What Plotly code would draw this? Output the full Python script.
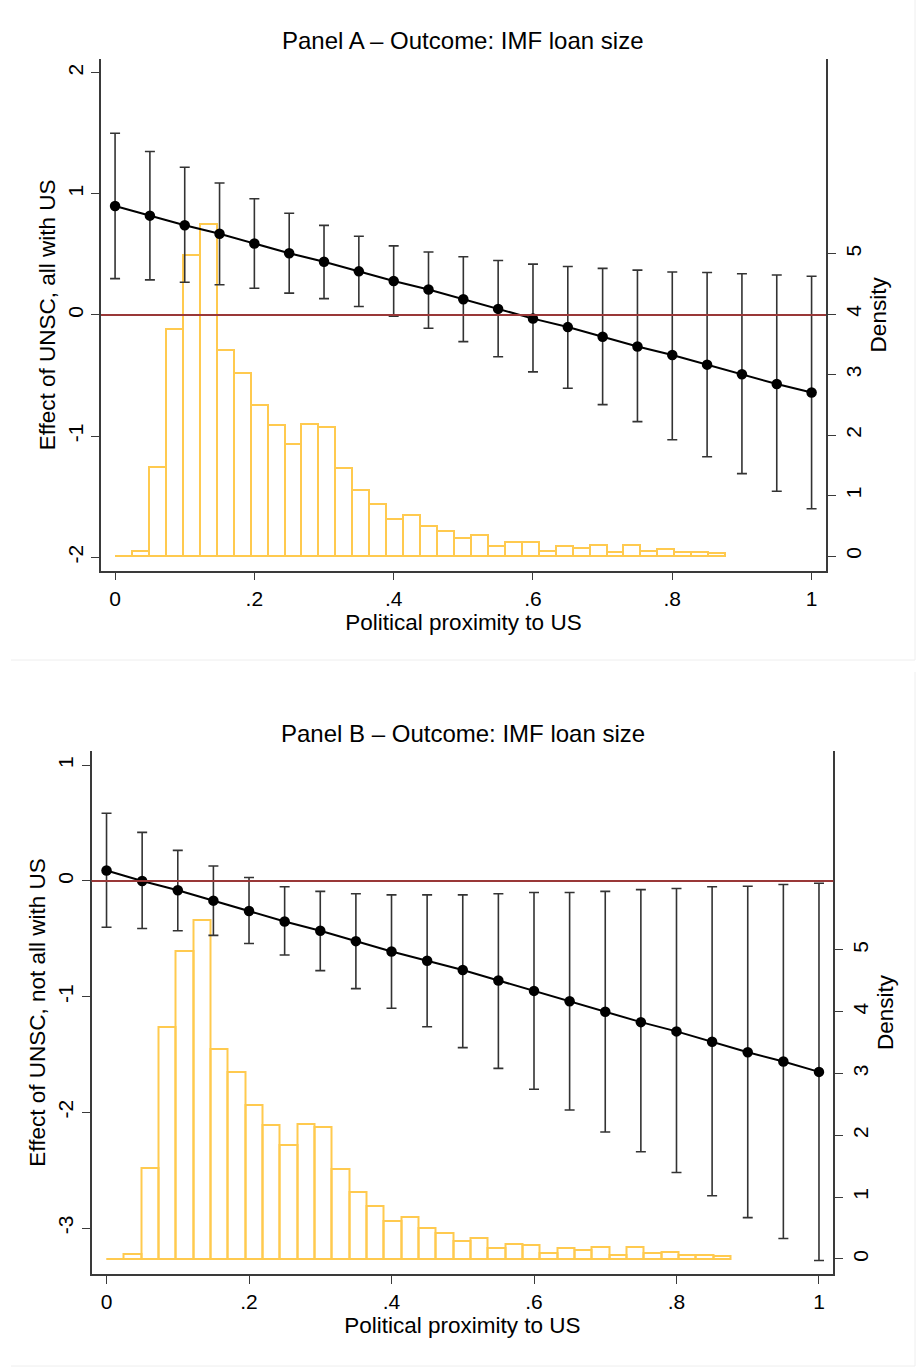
import plotly.graph_objects as go

# ---------------- data ----------------
proximity = [0.00, 0.05, 0.10, 0.15, 0.20, 0.25, 0.30, 0.35, 0.40, 0.45, 0.50,
             0.55, 0.60, 0.65, 0.70, 0.75, 0.80, 0.85, 0.90, 0.95, 1.00]

# Panel A: effect of UNSC, all with US
a_est = [0.90, 0.82, 0.74, 0.67, 0.59, 0.51, 0.44, 0.36, 0.28, 0.21, 0.13,
         0.05, -0.03, -0.10, -0.18, -0.26, -0.33, -0.41, -0.49, -0.57, -0.64]
a_hi = [1.50, 1.35, 1.22, 1.09, 0.96, 0.84, 0.74, 0.65, 0.57, 0.52, 0.48,
        0.45, 0.42, 0.40, 0.385, 0.37, 0.355, 0.35, 0.34, 0.33, 0.32]
a_lo = [0.30, 0.29, 0.27, 0.25, 0.22, 0.18, 0.135, 0.07, -0.01, -0.11, -0.22,
        -0.345, -0.47, -0.605, -0.74, -0.88, -1.03, -1.17, -1.31, -1.455, -1.60]

# Panel B: effect of UNSC, not all with US
b_est = [0.09, 0.00, -0.08, -0.17, -0.26, -0.35, -0.43, -0.52, -0.61, -0.69, -0.77,
         -0.86, -0.95, -1.04, -1.13, -1.22, -1.30, -1.39, -1.48, -1.56, -1.65]
b_hi = [0.585, 0.42, 0.265, 0.13, 0.03, -0.05, -0.09, -0.11, -0.12, -0.12, -0.12,
        -0.11, -0.10, -0.10, -0.09, -0.075, -0.065, -0.05, -0.045, -0.03, -0.02]
b_lo = [-0.40, -0.41, -0.43, -0.47, -0.54, -0.64, -0.775, -0.93, -1.10, -1.26, -1.44,
        -1.62, -1.80, -1.98, -2.17, -2.34, -2.52, -2.72, -2.91, -3.09, -3.28]

# Histogram of political proximity (density), 36 equal bins starting at 0
hist_start = 0.0
hist_width = 0.02433
hist_density = [0.00, 0.08, 1.48, 3.75, 4.98, 5.49, 3.40, 3.03, 2.49, 2.17, 1.85, 2.19,
                2.14, 1.45, 1.09, 0.86, 0.62, 0.68, 0.50, 0.42, 0.29, 0.34, 0.17, 0.24,
                0.23, 0.09, 0.17, 0.14, 0.19, 0.07, 0.19, 0.09, 0.12, 0.07, 0.07, 0.05]

x_tickvals = [0, 0.2, 0.4, 0.6, 0.8, 1]
x_ticktext = ["0", ".2", ".4", ".6", ".8", "1"]
a_yticks = [-2, -1, 0, 1, 2]
b_yticks = [-3, -2, -1, 0, 1]
dens_ticks = [0, 1, 2, 3, 4, 5]

# ---------------- styling ----------------
FONT = "Liberation Sans, Arial, Helvetica, sans-serif"
HIST_COL = "#FFCA4F"
RED = "#993838"
AXIS_COL = "#3a3a3a"
W, H = 921, 1368

hist_centers = [hist_start + hist_width * (i + 0.5) for i in range(len(hist_density))]
hist_edges = [hist_start, hist_start + hist_width * len(hist_density)]


def px_x(p):
    return p / W


def px_y(p):
    return 1 - p / H


fig = go.Figure()


def add_panel(xa, ya_dens, ya_eff, est, lo, hi):
    # histogram on density axis (drawn underneath)
    fig.add_trace(go.Bar(
        x=hist_centers, y=hist_density, width=hist_width,
        marker=dict(color="rgba(0,0,0,0)", line=dict(color=HIST_COL, width=2)),
        xaxis=xa, yaxis=ya_dens, showlegend=False, hoverinfo="skip"))
    fig.add_trace(go.Scatter(
        x=hist_edges, y=[0, 0], mode="lines",
        line=dict(color=HIST_COL, width=2),
        xaxis=xa, yaxis=ya_dens, showlegend=False, hoverinfo="skip"))
    # point estimates with confidence intervals
    fig.add_trace(go.Scatter(
        x=proximity, y=est, mode="lines+markers",
        line=dict(color="black", width=2),
        marker=dict(color="black", size=10.5),
        error_y=dict(type="data", symmetric=False,
                     array=[h - e for h, e in zip(hi, est)],
                     arrayminus=[e - l for e, l in zip(est, lo)],
                     color="#333333", thickness=1.6, width=5),
        xaxis=xa, yaxis=ya_eff, showlegend=False))


add_panel("x", "y", "y2", a_est, a_lo, a_hi)
add_panel("x2", "y3", "y4", b_est, b_lo, b_hi)

tickfont = dict(family=FONT, size=21, color="black")
titlefont = dict(family=FONT, size=22.5, color="black")

common_x = dict(showgrid=False, zeroline=False, showline=True, linecolor=AXIS_COL,
                linewidth=1.5, ticks="outside", ticklen=8, tickcolor=AXIS_COL,
                tickwidth=1.3, tickvals=x_tickvals, ticktext=x_ticktext,
                tickfont=tickfont)
common_y = dict(showgrid=False, zeroline=False, showline=True, linecolor=AXIS_COL,
                linewidth=1.5, ticks="outside", ticklen=8, tickcolor=AXIS_COL,
                tickwidth=1.3, tickangle=-90, tickfont=tickfont)

# Panel A geometry
a_dom_x = [px_x(101), px_x(826)]
a_dom_y = [px_y(570.7), px_y(59)]
# Panel B geometry
b_dom_x = [px_x(91.5), px_x(833.3)]
b_dom_y = [px_y(1274), px_y(751)]

fig.update_layout(
    width=W, height=H, margin=dict(l=0, r=0, t=0, b=0),
    paper_bgcolor="white", plot_bgcolor="rgba(0,0,0,0)",
    bargap=0, showlegend=False,
    font=dict(family=FONT, color="black"),
    xaxis=dict(domain=a_dom_x, anchor="y", range=[-0.0202, 1.0207],
               title=dict(text="Political proximity to US", font=titlefont, standoff=4),
               **common_x),
    yaxis=dict(domain=a_dom_y, anchor="x", side="right", range=[-0.243, 8.22],
               tickvals=dens_ticks, ticktext=[str(t) for t in dens_ticks],
               title=dict(text="Density", font=titlefont, standoff=6), **common_y),
    yaxis2=dict(overlaying="y", anchor="x", side="left", range=[-2.111, 2.113],
                tickvals=a_yticks, ticktext=[str(t) for t in a_yticks],
                title=dict(text="Effect of UNSC, all with US", font=titlefont, standoff=2),
                **common_y),
    xaxis2=dict(domain=b_dom_x, anchor="y3", range=[-0.0211, 1.0201],
                title=dict(text="Political proximity to US", font=titlefont, standoff=4),
                **common_x),
    yaxis3=dict(domain=b_dom_y, anchor="x2", side="right", range=[-0.243, 8.22],
                tickvals=dens_ticks, ticktext=[str(t) for t in dens_ticks],
                title=dict(text="Density", font=titlefont, standoff=6), **common_y),
    yaxis4=dict(overlaying="y3", anchor="x2", side="left", range=[-3.397, 1.1236],
                tickvals=b_yticks, ticktext=[str(t) for t in b_yticks],
                title=dict(text="Effect of UNSC, not all with US", font=titlefont, standoff=2),
                **common_y),
)

# zero reference lines
for yref, xref in (("y2", "x"), ("y4", "x2")):
    fig.add_shape(type="line", xref=xref + " domain", yref=yref, x0=0, x1=1, y0=0, y1=0,
                  line=dict(color=RED, width=2), layer="above")

# faint graph-region borders
for (x0, x1, y0, y1) in ((11, 915, 660, 660), (915, 915, -5, 660),
                         (11, 915, 1366, 1366), (915, 915, 672, 1366)):
    fig.add_shape(type="line", xref="paper", yref="paper",
                  x0=px_x(x0), x1=px_x(x1), y0=px_y(y0), y1=px_y(y1),
                  line=dict(color="#EEEEEE", width=1))

# panel titles
fig.add_annotation(text="Panel A \u2013 Outcome: IMF loan size", xref="paper", yref="paper",
                   x=px_x(463), y=px_y(41), showarrow=False, xanchor="center", yanchor="middle",
                   font=dict(family=FONT, size=24, color="black"))
fig.add_annotation(text="Panel B \u2013 Outcome: IMF loan size", xref="paper", yref="paper",
                   x=px_x(463), y=px_y(733), showarrow=False, xanchor="center", yanchor="middle",
                   font=dict(family=FONT, size=24, color="black"))

fig.write_html("out.html")
